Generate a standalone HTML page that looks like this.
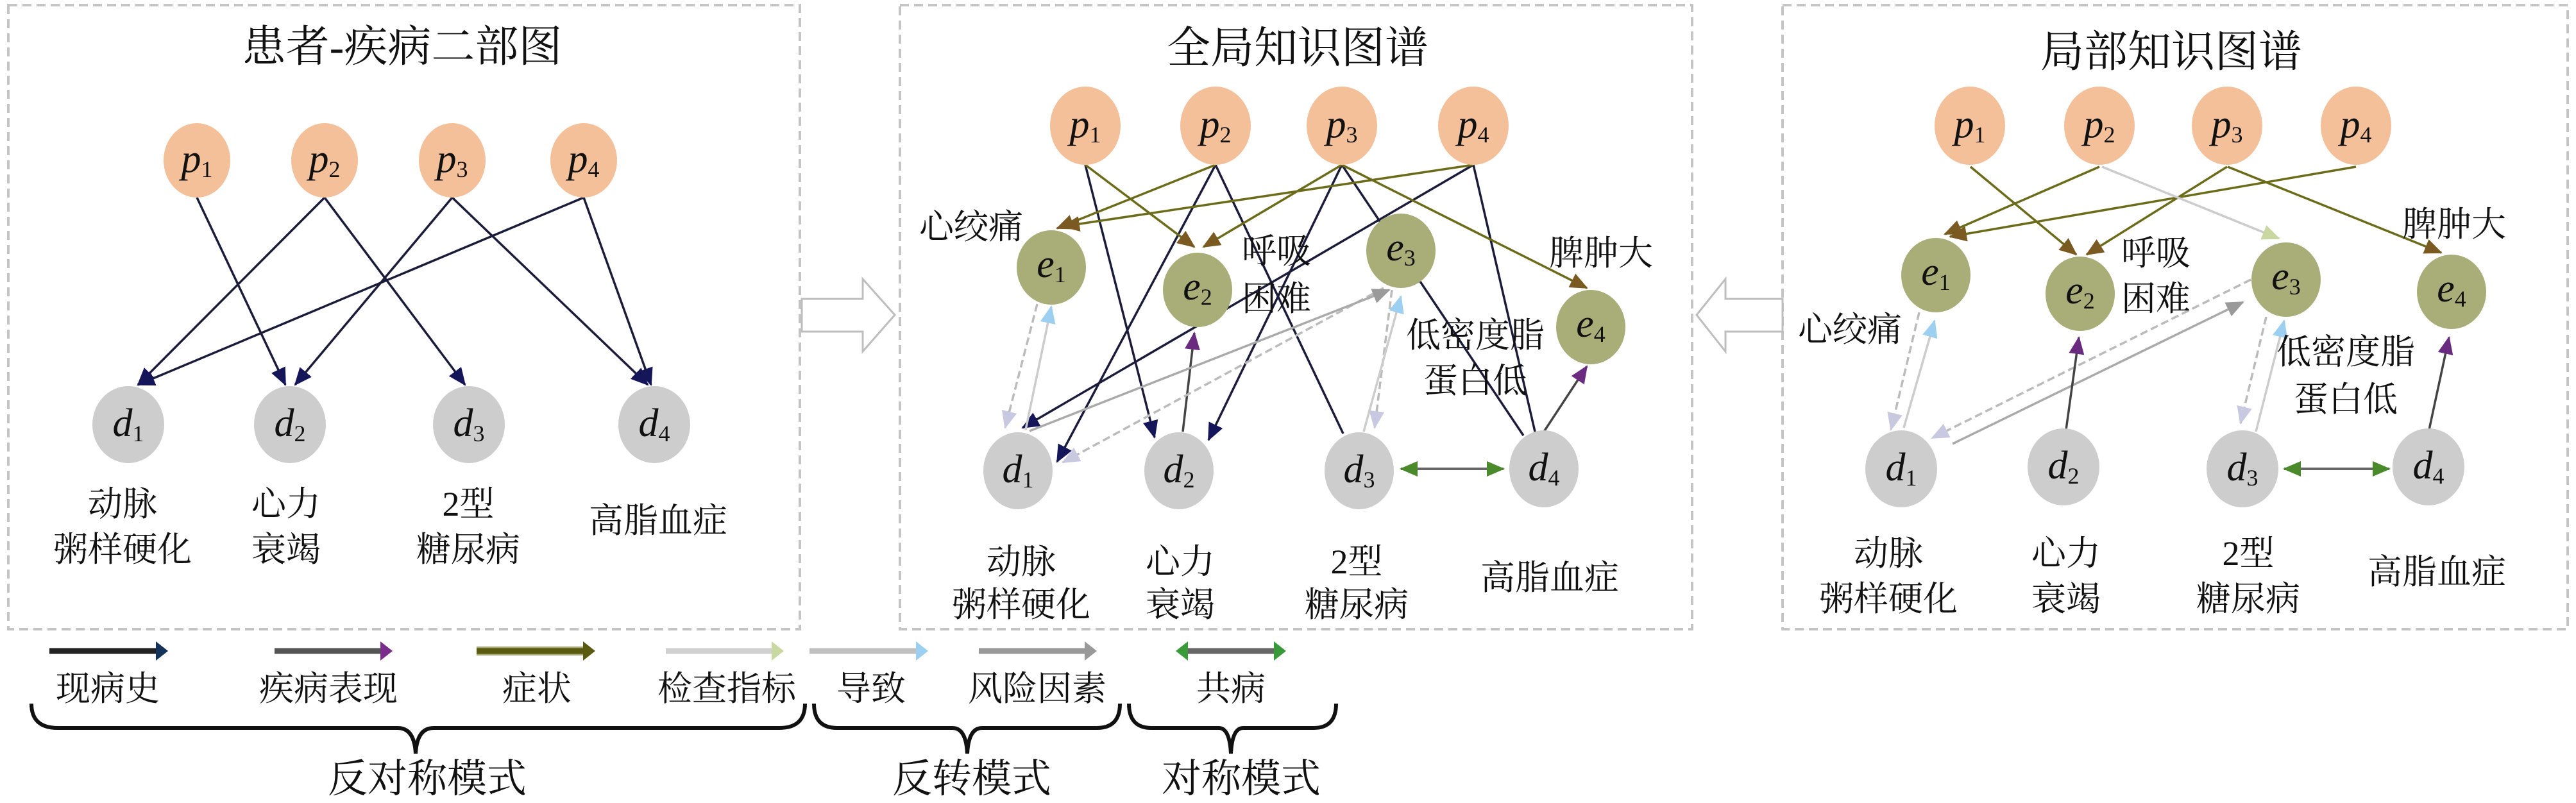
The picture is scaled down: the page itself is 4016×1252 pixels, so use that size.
<!DOCTYPE html>
<html><head><meta charset="utf-8"><style>
html,body{margin:0;padding:0;background:#fff}
svg{display:block}
text{font-family:"Liberation Serif","Noto Serif CJK SC","Noto Sans CJK SC",serif;fill:#111}
.cn{font-family:"Liberation Serif","Noto Serif CJK SC",serif}
.nl{font-family:"Liberation Serif",serif;font-style:italic;font-size:62px}
</style></head><body>
<svg width="4016" height="1252" viewBox="0 0 4016 1252" xmlns="http://www.w3.org/2000/svg">
<defs>
<marker id="mN" markerUnits="userSpaceOnUse" markerWidth="30" markerHeight="30" refX="26" refY="12" orient="auto"><path d="M0,0 L28,12 L0,24 z" fill="#15155a"/></marker>
<marker id="mO" markerUnits="userSpaceOnUse" markerWidth="30" markerHeight="30" refX="26" refY="12" orient="auto"><path d="M0,0 L28,12 L0,24 z" fill="#7a5a20"/></marker>
<marker id="mP" markerUnits="userSpaceOnUse" markerWidth="30" markerHeight="30" refX="26" refY="12" orient="auto"><path d="M0,0 L28,12 L0,24 z" fill="#6a2a80"/></marker>
<marker id="mL" markerUnits="userSpaceOnUse" markerWidth="30" markerHeight="30" refX="26" refY="12" orient="auto"><path d="M0,0 L28,12 L0,24 z" fill="#c8c8e0"/></marker>
<marker id="mB" markerUnits="userSpaceOnUse" markerWidth="30" markerHeight="30" refX="26" refY="12" orient="auto"><path d="M0,0 L28,12 L0,24 z" fill="#9ccff0"/></marker>
<marker id="mG" markerUnits="userSpaceOnUse" markerWidth="30" markerHeight="30" refX="26" refY="12" orient="auto"><path d="M0,0 L28,12 L0,24 z" fill="#9a9a9a"/></marker>
<marker id="mC" markerUnits="userSpaceOnUse" markerWidth="30" markerHeight="30" refX="26" refY="12" orient="auto"><path d="M0,0 L28,12 L0,24 z" fill="#c8d8a0"/></marker>
<marker id="mGr" markerUnits="userSpaceOnUse" markerWidth="30" markerHeight="30" refX="26" refY="12" orient="auto"><path d="M0,0 L28,12 L0,24 z" fill="#4a8a2a"/></marker>
<marker id="mGs" markerUnits="userSpaceOnUse" markerWidth="30" markerHeight="30" refX="2" refY="12" orient="auto"><path d="M28,0 L0,12 L28,24 z" fill="#4a8a2a"/></marker>
</defs>

<!-- panels -->
<g fill="none" stroke="#c4c4c4" stroke-width="4" stroke-dasharray="14,8">
<rect x="13" y="8" width="1234" height="973"/>
<rect x="1403" y="8" width="1235" height="973"/>
<rect x="2779" y="8" width="1224" height="973"/>
</g>

<!-- hollow arrows -->
<path d="M1250,466 L1345,466 L1345,435 L1395,491 L1345,548 L1345,517 L1250,517 z" fill="#fff" stroke="#bdbdbd" stroke-width="3"/>
<path d="M2779,466 L2690,466 L2690,435 L2645,491 L2690,548 L2690,517 L2779,517 z" fill="#fff" stroke="#bdbdbd" stroke-width="3"/>

<!-- titles -->
<g class="cn" font-size="68" text-anchor="middle">
<text x="627" y="96">患者-疾病二部图</text>
<text x="2023" y="98">全局知识图谱</text>
<text x="3385" y="104">局部知识图谱</text>
</g>

<!-- Panel 1 edges -->
<g stroke="#1b1b3a" stroke-width="3.5" marker-end="url(#mN)">
<line x1="307" y1="308" x2="445" y2="600"/>
<line x1="506" y1="308" x2="215" y2="600"/>
<line x1="506" y1="308" x2="725" y2="600"/>
<line x1="705" y1="308" x2="460" y2="600"/>
<line x1="705" y1="308" x2="1010" y2="600"/>
<line x1="910" y1="308" x2="215" y2="600"/>
<line x1="910" y1="308" x2="1015" y2="600"/>
</g>

<!-- Panel 2 edges -->
<g stroke="#1b1b3a" stroke-width="3.5">
<line x1="1692" y1="257" x2="1800" y2="682" marker-end="url(#mN)"/>
<line x1="1895" y1="257" x2="1648" y2="720" marker-end="url(#mN)"/>
<line x1="1895" y1="257" x2="2094" y2="676"/>
<line x1="2092" y1="257" x2="1884" y2="686" marker-end="url(#mN)"/>
<line x1="2092" y1="257" x2="2375" y2="679"/>
<line x1="2297" y1="257" x2="1594" y2="667" marker-end="url(#mN)"/>
<line x1="2297" y1="257" x2="2393" y2="673"/>
</g>
<g stroke="#6b6b1a" stroke-width="3.5" marker-end="url(#mO)">
<line x1="1692" y1="257" x2="1862" y2="385"/>
<line x1="1895" y1="257" x2="1648" y2="356"/>
<line x1="2092" y1="257" x2="1876" y2="385"/>
<line x1="2297" y1="257" x2="1657" y2="353"/>
<line x1="2092" y1="257" x2="2474" y2="449"/>
</g>
<g stroke="#444" stroke-width="3.5" marker-end="url(#mP)">
<line x1="1844" y1="673" x2="1862" y2="519"/>
<line x1="2407" y1="673" x2="2474" y2="571"/>
</g>
<g stroke="#bbb" stroke-width="3.5" stroke-dasharray="12,6" marker-end="url(#mL)">
<line x1="1617" y1="474" x2="1567" y2="667"/>
<line x1="2170" y1="452" x2="2143" y2="667"/>
<line x1="2157" y1="449" x2="1657" y2="721"/>
</g>
<g stroke="#ccc" stroke-width="3.5" marker-end="url(#mB)">
<line x1="1599" y1="670" x2="1639" y2="478"/>
<line x1="2126" y1="673" x2="2184" y2="462"/>
</g>
<line x1="1605" y1="672" x2="2166" y2="452" stroke="#aaa" stroke-width="3.5" marker-end="url(#mG)"/>
<line x1="2184" y1="731" x2="2344" y2="731" stroke="#666" stroke-width="4" marker-end="url(#mGr)" marker-start="url(#mGs)"/>

<!-- Panel 3 edges -->
<g stroke="#6b6b1a" stroke-width="3.5" marker-end="url(#mO)">
<line x1="3072" y1="260" x2="3237" y2="397"/>
<line x1="3273" y1="260" x2="3032" y2="365"/>
<line x1="3472" y1="260" x2="3253" y2="397"/>
<line x1="3673" y1="260" x2="3040" y2="369"/>
<line x1="3473" y1="260" x2="3806" y2="394"/>
</g>
<line x1="3277" y1="260" x2="3553" y2="372" stroke="#ccc" stroke-width="3.5" marker-end="url(#mC)"/>
<g stroke="#bbb" stroke-width="3.5" stroke-dasharray="12,6" marker-end="url(#mL)">
<line x1="2992" y1="487" x2="2948" y2="670"/>
<line x1="3509" y1="436" x2="3012" y2="683"/>
<line x1="3533" y1="494" x2="3493" y2="660"/>
</g>
<g stroke="#ccc" stroke-width="3.5" marker-end="url(#mB)">
<line x1="2968" y1="667" x2="3016" y2="500"/>
<line x1="3517" y1="673" x2="3561" y2="500"/>
</g>
<line x1="3044" y1="692" x2="3497" y2="471" stroke="#aaa" stroke-width="3.5" marker-end="url(#mG)"/>
<g stroke="#444" stroke-width="3.5" marker-end="url(#mP)">
<line x1="3221" y1="670" x2="3241" y2="526"/>
<line x1="3787" y1="670" x2="3818" y2="526"/>
</g>
<line x1="3561" y1="731" x2="3725" y2="731" stroke="#666" stroke-width="4" marker-end="url(#mGr)" marker-start="url(#mGs)"/>

<!-- Nodes -->
<g fill="#f4c09a">
<ellipse cx="307" cy="250" rx="52" ry="58"/><ellipse cx="506" cy="250" rx="52" ry="58"/><ellipse cx="705" cy="250" rx="52" ry="58"/><ellipse cx="910" cy="250" rx="52" ry="58"/>
<ellipse cx="1692" cy="196" rx="55" ry="61"/><ellipse cx="1895" cy="196" rx="55" ry="61"/><ellipse cx="2092" cy="196" rx="55" ry="61"/><ellipse cx="2297" cy="196" rx="55" ry="61"/>
<ellipse cx="3071" cy="196" rx="55" ry="61"/><ellipse cx="3273" cy="196" rx="55" ry="61"/><ellipse cx="3472" cy="196" rx="55" ry="61"/><ellipse cx="3673" cy="196" rx="55" ry="61"/>
</g>
<g fill="#a9ad78">
<ellipse cx="1639" cy="417" rx="54" ry="58"/><ellipse cx="1867" cy="452" rx="54" ry="58"/><ellipse cx="2184" cy="391" rx="54" ry="58"/><ellipse cx="2480" cy="510" rx="54" ry="58"/>
<ellipse cx="3018" cy="429" rx="54" ry="58"/><ellipse cx="3243" cy="458" rx="54" ry="58"/><ellipse cx="3564" cy="436" rx="54" ry="58"/><ellipse cx="3822" cy="455" rx="54" ry="58"/>
</g>
<g fill="#cdcdcd">
<ellipse cx="200" cy="662" rx="56" ry="60"/><ellipse cx="452" cy="662" rx="56" ry="60"/><ellipse cx="731" cy="662" rx="56" ry="60"/><ellipse cx="1020" cy="662" rx="56" ry="60"/>
<ellipse cx="1587" cy="734" rx="54" ry="60"/><ellipse cx="1838" cy="734" rx="54" ry="60"/><ellipse cx="2119" cy="734" rx="54" ry="60"/><ellipse cx="2407" cy="731" rx="54" ry="60"/>
<ellipse cx="2964" cy="731" rx="56" ry="60"/><ellipse cx="3217" cy="728" rx="56" ry="60"/><ellipse cx="3496" cy="731" rx="56" ry="60"/><ellipse cx="3786" cy="728" rx="56" ry="60"/>
</g>

<!-- node labels -->
<g class="nl" text-anchor="middle">
<text x="307" y="268">p<tspan font-size="36" font-style="normal" dy="8">1</tspan></text>
<text x="506" y="268">p<tspan font-size="36" font-style="normal" dy="8">2</tspan></text>
<text x="705" y="268">p<tspan font-size="36" font-style="normal" dy="8">3</tspan></text>
<text x="910" y="268">p<tspan font-size="36" font-style="normal" dy="8">4</tspan></text>
<text x="200" y="680">d<tspan font-size="36" font-style="normal" dy="8">1</tspan></text>
<text x="452" y="680">d<tspan font-size="36" font-style="normal" dy="8">2</tspan></text>
<text x="731" y="680">d<tspan font-size="36" font-style="normal" dy="8">3</tspan></text>
<text x="1020" y="680">d<tspan font-size="36" font-style="normal" dy="8">4</tspan></text>

<text x="1692" y="214">p<tspan font-size="36" font-style="normal" dy="8">1</tspan></text>
<text x="1895" y="214">p<tspan font-size="36" font-style="normal" dy="8">2</tspan></text>
<text x="2092" y="214">p<tspan font-size="36" font-style="normal" dy="8">3</tspan></text>
<text x="2297" y="214">p<tspan font-size="36" font-style="normal" dy="8">4</tspan></text>
<text x="1639" y="432">e<tspan font-size="36" font-style="normal" dy="8">1</tspan></text>
<text x="1867" y="467">e<tspan font-size="36" font-style="normal" dy="8">2</tspan></text>
<text x="2184" y="406">e<tspan font-size="36" font-style="normal" dy="8">3</tspan></text>
<text x="2480" y="525">e<tspan font-size="36" font-style="normal" dy="8">4</tspan></text>
<text x="1587" y="752">d<tspan font-size="36" font-style="normal" dy="8">1</tspan></text>
<text x="1838" y="752">d<tspan font-size="36" font-style="normal" dy="8">2</tspan></text>
<text x="2119" y="752">d<tspan font-size="36" font-style="normal" dy="8">3</tspan></text>
<text x="2407" y="749">d<tspan font-size="36" font-style="normal" dy="8">4</tspan></text>

<text x="3071" y="214">p<tspan font-size="36" font-style="normal" dy="8">1</tspan></text>
<text x="3273" y="214">p<tspan font-size="36" font-style="normal" dy="8">2</tspan></text>
<text x="3472" y="214">p<tspan font-size="36" font-style="normal" dy="8">3</tspan></text>
<text x="3673" y="214">p<tspan font-size="36" font-style="normal" dy="8">4</tspan></text>
<text x="3018" y="444">e<tspan font-size="36" font-style="normal" dy="8">1</tspan></text>
<text x="3243" y="473">e<tspan font-size="36" font-style="normal" dy="8">2</tspan></text>
<text x="3564" y="451">e<tspan font-size="36" font-style="normal" dy="8">3</tspan></text>
<text x="3822" y="470">e<tspan font-size="36" font-style="normal" dy="8">4</tspan></text>
<text x="2964" y="749">d<tspan font-size="36" font-style="normal" dy="8">1</tspan></text>
<text x="3217" y="746">d<tspan font-size="36" font-style="normal" dy="8">2</tspan></text>
<text x="3496" y="749">d<tspan font-size="36" font-style="normal" dy="8">3</tspan></text>
<text x="3786" y="746">d<tspan font-size="36" font-style="normal" dy="8">4</tspan></text>
</g>

<!-- Chinese labels -->
<g class="cn" font-size="54" text-anchor="middle">
<text x="191" y="804">动脉</text><text x="191" y="875">粥样硬化</text>
<text x="446" y="804">心力</text><text x="446" y="875">衰竭</text>
<text x="730" y="804">2型</text><text x="730" y="875">糖尿病</text>
<text x="1026" y="830">高脂血症</text>

<text x="1514" y="372">心绞痛</text>
<text x="1990" y="410">呼吸</text><text x="1990" y="484">困难</text>
<text x="2300" y="541">低密度脂</text><text x="2300" y="612">蛋白低</text>
<text x="2496" y="413">脾肿大</text>
<text x="1592" y="894">动脉</text><text x="1592" y="961">粥样硬化</text>
<text x="1840" y="894">心力</text><text x="1840" y="961">衰竭</text>
<text x="2115" y="894">2型</text><text x="2115" y="961">糖尿病</text>
<text x="2416" y="919">高脂血症</text>

<text x="2884" y="532">心绞痛</text>
<text x="3361" y="413">呼吸</text><text x="3361" y="484">困难</text>
<text x="3657" y="567">低密度脂</text><text x="3657" y="641">蛋白低</text>
<text x="3826" y="368">脾肿大</text>
<text x="2944" y="881">动脉</text><text x="2944" y="952">粥样硬化</text>
<text x="3221" y="881">心力</text><text x="3221" y="952">衰竭</text>
<text x="3505" y="881">2型</text><text x="3505" y="952">糖尿病</text>
<text x="3799" y="910">高脂血症</text>
</g>

<!-- Legend arrows -->
<g stroke-width="9">
<line x1="77" y1="1015" x2="245" y2="1015" stroke="#222"/>
<path d="M243,1000 L262,1015 L243,1030 z" fill="#15335a"/>
<line x1="428" y1="1015" x2="595" y2="1015" stroke="#555"/>
<path d="M593,1000 L612,1015 L593,1030 z" fill="#7b2d8e"/>
<line x1="743" y1="1015" x2="911" y2="1015" stroke="#6b6b1a" stroke-width="14" stroke-opacity="0.6"/>
<line x1="743" y1="1015" x2="911" y2="1015" stroke="#5a5a10"/>
<path d="M909,1000 L928,1015 L909,1030 z" fill="#5a5a10"/>
<line x1="1038" y1="1015" x2="1205" y2="1015" stroke="#d0d0d0"/>
<path d="M1203,1000 L1222,1015 L1203,1030 z" fill="#c8d8a0"/>
<line x1="1262" y1="1015" x2="1430" y2="1015" stroke="#c0c0c0"/>
<path d="M1428,1000 L1447,1015 L1428,1030 z" fill="#9ccff0"/>
<line x1="1526" y1="1015" x2="1693" y2="1015" stroke="#999"/>
<path d="M1691,1000 L1710,1015 L1691,1030 z" fill="#999"/>
<line x1="1850" y1="1015" x2="1988" y2="1015" stroke="#666"/>
<path d="M1986,1000 L2005,1015 L1986,1030 z" fill="#3a9a3a"/>
<path d="M1852,1000 L1833,1015 L1852,1030 z" fill="#3a9a3a"/>
</g>
<g class="cn" font-size="54" text-anchor="middle">
<text x="168" y="1092">现病史</text>
<text x="512" y="1092">疾病表现</text>
<text x="837" y="1092">症状</text>
<text x="1133" y="1092">检查指标</text>
<text x="1358" y="1092">导致</text>
<text x="1617" y="1092">风险因素</text>
<text x="1919" y="1092">共病</text>
</g>
<!-- braces -->
<g fill="none" stroke="#111" stroke-width="6">
<path d="M49,1097 Q49,1135 90,1135 L620,1135 Q646,1135 648,1175 Q650,1135 676,1135 L1215,1135 Q1255,1135 1255,1097"/>
<path d="M1269,1097 Q1269,1135 1305,1135 L1485,1135 Q1506,1135 1508,1175 Q1510,1135 1531,1135 L1710,1135 Q1746,1135 1746,1097"/>
<path d="M1760,1097 Q1760,1135 1795,1135 L1900,1135 Q1917,1135 1919,1175 Q1921,1135 1938,1135 L2048,1135 Q2083,1135 2083,1097"/>
</g>
<g class="cn" font-size="62" text-anchor="middle">
<text x="666" y="1235">反对称模式</text>
<text x="1515" y="1235">反转模式</text>
<text x="1935" y="1235">对称模式</text>
</g>
</svg>
</body></html>
